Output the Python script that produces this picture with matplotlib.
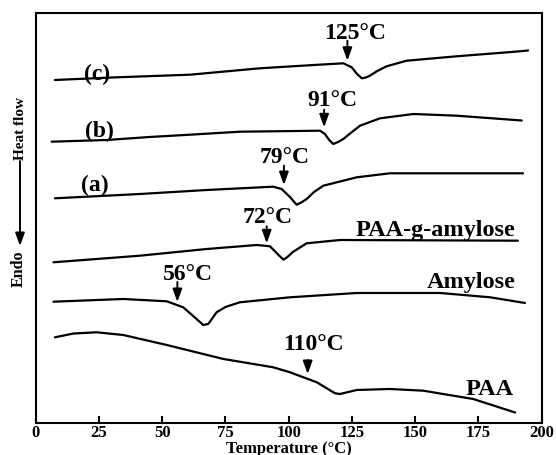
import matplotlib
matplotlib.use("Agg")
import matplotlib.pyplot as plt

plt.rcParams['font.family'] = ['Liberation Serif', 'DejaVu Serif']
plt.rcParams['font.weight'] = 'bold'

# ---- data (temperature in °C, heat flow in arbitrary units, curves offset) ----
c_x = [7.6, 30, 61, 88.6, 110, 121.6, 124.9, 127, 128.9, 130.5, 132.1, 135, 138.7, 146.6, 166.4, 191.4, 194.6]
c_y = [343, 345.5, 348.3, 354.7, 358, 359.7, 355.7, 349, 344.7, 345.5, 347.3, 352, 356.7, 362.3, 366.7, 371.7, 372.5]

b_x = [6.3, 28.1, 45, 61, 80.7, 112.4, 114.3, 116, 117.6, 119.5, 121.6, 125, 128.2, 136.1, 149.3, 166.4, 192.1]
b_y = [281.3, 283, 286, 288.3, 291.3, 292.3, 289, 283, 279, 281, 284, 291, 297.3, 304.7, 309, 307.3, 302.5]

a_x = [7.6, 41.2, 67.6, 93.9, 97.2, 100.5, 103.1, 105, 107.1, 110, 113.7, 126.9, 140, 192.6]
a_y = [224.7, 229, 233, 236.3, 234, 226, 218.3, 220.5, 224, 231, 237.3, 245.7, 249.7, 249.7]

g_x = [7, 41.2, 67.6, 87.4, 92.6, 96, 97.9, 99.5, 101.8, 107.1, 120.3, 190.6]
g_y = [160.7, 167.3, 174, 178, 176.7, 168, 163.3, 166, 171.3, 179.7, 183, 182.3]

am_x = [7, 34.6, 51.8, 58.3, 63.6, 66.2, 68.2, 71.5, 75, 80.7, 100.5, 126.9, 159.8, 179.6, 193.4]
am_y = [121.3, 124, 121.7, 115.7, 104, 98, 99, 110.7, 116, 120.7, 125.7, 130, 130, 125.7, 120]

paa_x = [7.6, 15, 24.1, 34.6, 51.8, 74.2, 93.9, 100.5, 111.1, 118.3, 120.3, 126.9, 140, 153.2, 172.9, 189.5]
paa_y = [85.7, 89.5, 90.7, 88, 78, 64, 55.7, 50.7, 40.7, 29.7, 29, 33, 34, 32.3, 24, 10.5]

curves = [(c_x, c_y), (b_x, b_y), (a_x, a_y), (g_x, g_y), (am_x, am_y), (paa_x, paa_y)]

# annotations: text, text x, text baseline y, arrow x, arrow start y, arrow end y
ann_text = ['125°C', '91°C', '79°C', '72°C', '56°C', '110°C']
ann_tx = [126.2, 117.3, 98.2, 91.6, 60.2, 109.7]
ann_ty = [384.7, 318, 261.3, 200.7, 144, 73.5]
ann_ax = [123.2, 114.0, 98.1, 91.3, 56.0, 107.5]
ann_y0 = [382.3, 313.3, 257.3, 196.7, 141, 63]
ann_y1 = [362.3, 295.7, 238, 179.7, 121, 49]

left_labels = ['(c)', '(b)', '(a)']
left_lx = [24.4, 25.0, 23.4]
left_ly = [350, 292.3, 239]

right_labels = ['PAA-g-amylose', 'Amylose', 'PAA']
right_lx = [189.5, 189.5, 188.8]
right_ly = [188, 135.7, 29]

xticks = [0, 25, 50, 75, 100, 125, 150, 175, 200]

# ---- figure ----
fig = plt.figure(figsize=(5.56, 4.56), dpi=100)
ax = fig.add_axes([0.0642, 0.0702, 0.9101, 0.8991])

for xs, ys in curves:
    ax.plot(xs, ys, color='black', lw=1.6, solid_capstyle='round', solid_joinstyle='round')

arrow_style = dict(arrowstyle='-|>,head_length=0.55,head_width=0.2', lw=1.4,
                   color='black', shrinkA=0, shrinkB=0, mutation_scale=14)

for t, tx, ty, axx, y0, y1 in zip(ann_text, ann_tx, ann_ty, ann_ax, ann_y0, ann_y1):
    ax.text(tx, ty, t, ha='center', va='baseline', fontsize=17, fontweight='bold')
    ax.annotate('', xy=(axx, y1), xytext=(axx, y0), arrowprops=arrow_style)

for t, lx, ly in zip(left_labels, left_lx, left_ly):
    ax.text(lx, ly, t, ha='center', va='center', fontsize=17, fontweight='bold')

for t, lx, ly in zip(right_labels, right_lx, right_ly):
    ax.text(lx, ly, t, ha='right', va='baseline', fontsize=17.5, fontweight='bold')

ax.set_xlim(0, 200)
ax.set_ylim(0, 410)
ax.set_xticks(xticks)
ax.set_xticklabels([str(v) for v in xticks])
ax.set_yticks([])
ax.tick_params(axis='x', direction='in', length=5, width=1.5, labelsize=12, pad=1)
for s in ax.spines.values():
    s.set_linewidth(1.5)
ax.set_xlabel('Temperature (°C)', fontsize=12, fontweight='bold', labelpad=0)

# y-axis label: Endo <-- Heat flow
W, H = 556, 456
fig.text(21 / W, 1 - 129 / H, 'Heat flow', rotation=90, ha='center', va='center',
         fontsize=11, fontweight='bold')
fig.text(18.5 / W, 1 - 269 / H, 'Endo', rotation=90, ha='center', va='center',
         fontsize=11.5, fontweight='bold')
ax.annotate('', xy=(20 / W, 1 - 247 / H), xytext=(20 / W, 1 - 162 / H),
            xycoords='figure fraction', textcoords='figure fraction',
            arrowprops=arrow_style)

fig.savefig('out.png', dpi=100)
